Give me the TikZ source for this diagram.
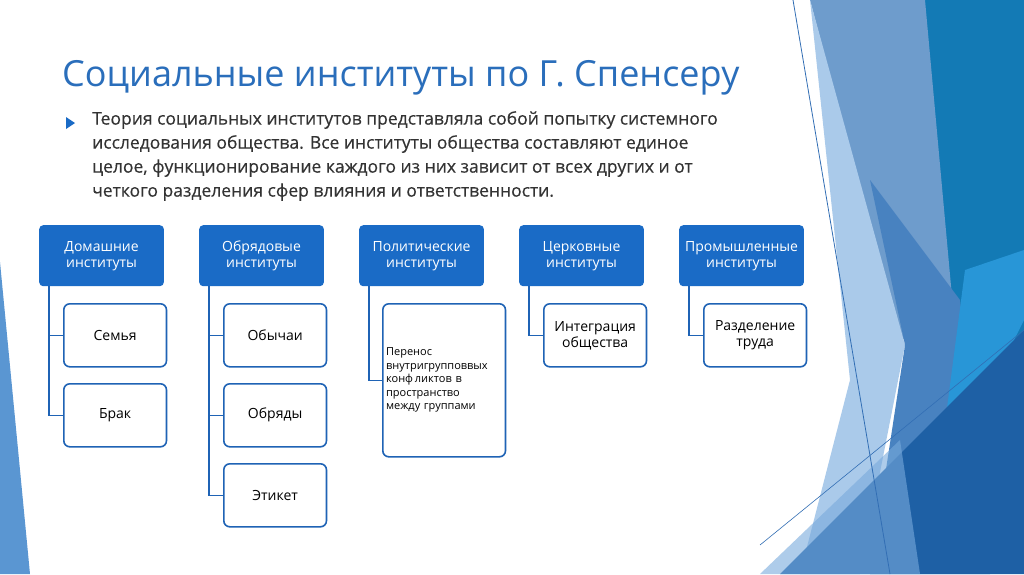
\documentclass[tikz,border=0pt]{standalone}
\usepackage{fontspec}
\setmainfont{Open Sans}
\definecolor{hdr}{HTML}{1A6BC6}
\definecolor{ttl}{HTML}{2A6EBB}
\definecolor{edge}{HTML}{1F63B5}
\begin{document}
\begin{tikzpicture}[x=1pt,y=-1pt,
  head/.style={draw=none,fill=hdr,rounded corners=4pt,minimum width=124pt,minimum height=61pt,text=white,font=\fontsize{14}{16}\selectfont,align=center,anchor=north west,text width=118pt},
  kid/.style={draw=edge,line width=1.6pt,fill=white,rounded corners=6pt,minimum width=102pt,minimum height=63pt,font=\fontsize{14}{16}\selectfont,align=center,anchor=north west,text width=96pt},
  conn/.style={draw=edge,line width=1.6pt}]
\fill[white] (0,0) rectangle (1024,574);
\useasboundingbox (0,0) rectangle (1024,574);
% left decoration
\fill[color={rgb,255:red,90;green,150;blue,210}] (0,262) -- (30,574) -- (0,574) -- cycle;
% right decoration
\fill[color={rgb,255:red,19;green,122;blue,181}] (925,0) -- (1024,0) -- (1024,574) -- (925,574) -- cycle;
\fill[color={rgb,255:red,110;green,156;blue,204}] (810,0) -- (925,0) -- (955,330) -- (900,340) -- cycle;
\fill[color={rgb,255:red,170;green,202;blue,234}] (810,0) -- (905,345) -- (860,574) -- (800,574) -- (850,380) -- cycle;
\fill[color={rgb,255:red,72;green,130;blue,192}] (870,180) -- (960,300) -- (990,574) -- (870,574) -- (905,345) -- cycle;
\fill[color={rgb,255:red,40;green,150;blue,215}] (965,270) -- (1024,250) -- (1024,320) -- (935,500) -- cycle;
\fill[color={rgb,255:red,30;green,96;blue,165}] (780,574) -- (1024,330) -- (1024,574) -- cycle;
\fill[color={rgb,255:red,120;green,170;blue,220}, opacity=0.6] (760,574) -- (900,440) -- (920,574) -- cycle;
\draw[color={rgb,255:red,50;green,110;blue,180}, line width=0.8pt] (793,0) -- (890,574);
\draw[color={rgb,255:red,50;green,110;blue,180}, line width=0.6pt] (760,545) -- (1024,330);
% title
\node[anchor=west,text=ttl,font=\fontsize{36}{40}\selectfont,inner sep=0pt] (title) at (62,78) {Социальные институты по Г. Спенсеру};
\fill[hdr] (66,117) -- (75,123) -- (66,129) -- cycle;
\node[anchor=north west,font=\fontsize{17.5}{24}\selectfont\addfontfeatures{FakeBold=0.4},text=black!80,align=left,inner sep=0pt] (body) at (92,111) {Теория социальных институтов представляла собой попытку системного\\исследования общества. Все институты общества составляют единое\\целое, функционирование каждого из них зависит от всех других и от\\четкого разделения сфер влияния и ответственности.};
% headers
\node[head] (h1) at (39,225) {Домашние\\институты};
\node[head] (h2) at (199,225) {Обрядовые\\институты};
\node[head] (h3) at (359,225) {Политические\\институты};
\node[head] (h4) at (519,225) {Церковные\\институты};
\node[head] (h5) at (679,225) {Промышленные\\институты};
% children
\node[kid] (c11) at (63,303) {Семья};
\node[kid] (c12) at (63,383) {Брак};
\node[kid] (c21) at (223,303) {Обычаи};
\node[kid] (c22) at (223,383) {Обряды};
\node[kid] (c23) at (223,463) {Этикет};
\node[kid,minimum width=122pt,minimum height=153pt,text width=116pt,align=left,font=\fontsize{11}{13.5}\selectfont] (c31) at (382,303) {Перенос\\внутригрупповвых\\конф\,ликтов в\\пространство\\между группами};
\node[kid] (c41) at (543,303) {Интеграция\\общества};
\node[kid] (c51) at (703,303) {Разделение\\труда};
% connectors
\draw[conn] ([xshift=10pt]h1.south west) |- (c11.west);
\draw[conn] ([xshift=10pt]h1.south west) |- (c12.west);
\draw[conn] ([xshift=10pt]h2.south west) |- (c21.west);
\draw[conn] ([xshift=10pt]h2.south west) |- (c22.west);
\draw[conn] ([xshift=10pt]h2.south west) |- (c23.west);
\draw[conn] ([xshift=10pt]h3.south west) |- (c31.west);
\draw[conn] ([xshift=10pt]h4.south west) |- (c41.west);
\draw[conn] ([xshift=10pt]h5.south west) |- (c51.west);
\end{tikzpicture}
\end{document}
